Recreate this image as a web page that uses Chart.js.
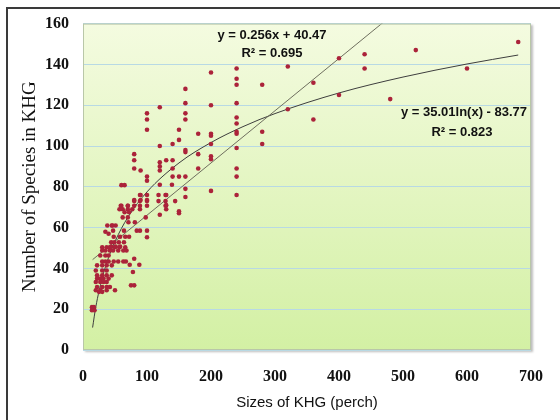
<!DOCTYPE html>
<html>
<head>
<meta charset="utf-8">
<script src="https://cdn.jsdelivr.net/npm/chart.js@4"></script>
<style>
  html, body { margin: 0; padding: 0; background: #fff; }
  #wrap { position: relative; width: 560px; height: 420px; overflow: hidden; }
  #frame { position: absolute; left: 6px; top: 7px; width: 600px; height: 500px;
           border-left: 2px solid #3a3a3a; border-top: 2px solid #3a3a3a; }
  canvas { position: absolute; left: 0; top: 0; }
</style>
</head>
<body>
<div id="wrap">
  <div id="frame"></div>
  <canvas id="myChart" width="560" height="420"></canvas>
</div>
<script>
// observed sites: size (perch) and number of species
let sizes = [
  30,37,42,50,57,66, 30,35,42,47,55,63,68, 27,35,40, 80, 30,35,40,48,55,63,67,
  73,88, 22,30,37,45, 20,30,37, 78, 22,30,37,45, 22,27,32,40, 20,27,32,37,
  75,80, 22,30,37,42, 20,27,37,50, 25,30, 14,17, 14,18,
  89,100,118,129, 80,89,100,118,129, 59,70,80,89,100,129, 57,62,70,77,89,
  65,72, 120, 98,62,70, 71,81, 46,51, 38,45, 35,40, 47,64,84,89,100,
  100,48,58,66,72, 44,49,56,64, 44,51,58,
  60,65, 120,139, 90, 80, 90,100, 60,70,
  80,80,80, 90, 100,100,100,100,100, 120,120,120,120,120,
  130,130,130,130, 140,140,140,140, 144, 150,150,150,150,150,
  160,160,160,160,160,160,160,160,160, 180,180,180,
  200,200,200,200,200,200,200,200,
  240,240,240,240,240,240,240,240,240,240,240,240,
  280,280,280, 320,320, 360,360, 400,400, 440,440, 480, 520, 600, 680
];
let species = [
  50.4,50.4,50.4,50.4,50.4,50.4, 48.8,48.8,48.8,48.8,48.8,48.8,48.8, 46.3,46.3,46.3, 44.7, 43.4,43.4,43.4,43.4,43.4,43.4,43.4,
  41.8,41.8, 41.5,41.5,41.5,41.5, 39,39,39, 38.2, 36.6,36.6,36.6,36.6, 35,35,35,35, 33.3,33.3,33.3,33.3,
  31.7,31.7, 30.9,30.9,30.9,30.9, 29.3,29.3,29.3,29.3, 28.5,28.5, 21,21, 19.5,19.5,
  76,76,76,76, 73,73,73,73,73, 70.7,70.7,70.7,70.7,70.7,70.7, 69,69,69,69,69,
  67.5,67.5, 66.3, 65,65,65, 62.6,62.6, 61,61, 61,61, 58,57, 58.5,58.5,58.5,58.5,58.5,
  55.3,55.5,55.5,55.5,55.5, 52.8,52.8,52.8,52.8, 50.7,50.7,50.7,
  80.8,80.8, 81,81, 76, 73.5, 73.5,73.5, 70.7,70.7,
  96,93,89, 88, 116,113,108,85,83, 119,100,92,90,88,
  93,76,71,69, 101,93,89,85, 73, 108,103,85,68,67,
  128,121,116,113,98,97,85,79,75, 106,96,89,
  136,120,106,105,101,95,93.5,78,
  138,133,130,121,114,111,107,106,99,89,85,76,
  130,107,101, 139,118, 131,113, 143,125, 145,138, 123, 147, 138, 151
];

// linear trend y = 0.256x + 40.47 (end points)
let linX = [15, 480];
let linY = [44.3, 163.4];

// log trend y = 35.01ln(x) - 83.77
let logX = [15, 20, 30, 40, 50, 70, 100, 150, 200, 250, 300, 400, 500, 600, 680];
let logY = [11.0, 21.1, 35.3, 45.4, 53.2, 65.0, 77.5, 91.7, 101.7, 109.5, 115.9, 126.0, 133.8, 140.2, 144.6];

let xTicks = [0, 700, 100];
let yTicks = [0, 160, 20];

function pairs(xs, ys) {
  return xs.map(function (x, i) { return { x: x, y: ys[i] }; });
}

// green plot background + frame + trend labels
let plotDeco = {
  id: 'plotDeco',
  beforeDraw: function (chart) {
    let a = chart.chartArea, ctx = chart.ctx;
    let g = ctx.createLinearGradient(0, a.top, 0, a.bottom);
    g.addColorStop(0, '#f4fbe0');
    g.addColorStop(1, '#d3f0a4');
    ctx.save();
    ctx.shadowColor = 'rgba(0,0,0,0.25)';
    ctx.shadowOffsetX = 1.5;
    ctx.shadowOffsetY = 1.5;
    ctx.shadowBlur = 2;
    ctx.fillStyle = g;
    ctx.fillRect(a.left, a.top, a.right - a.left, a.bottom - a.top);
    ctx.restore();
  },
  afterDraw: function (chart) {
    let a = chart.chartArea, ctx = chart.ctx;
    ctx.save();
    ctx.strokeStyle = '#b9c7a8';
    ctx.lineWidth = 1;
    ctx.strokeRect(a.left + 0.5, a.top + 0.5, a.right - a.left - 1, a.bottom - a.top - 1);
    ctx.fillStyle = '#111';
    ctx.font = 'bold 13px "Liberation Sans", Arial, sans-serif';
    ctx.textAlign = 'center';
    ctx.textBaseline = 'middle';
    ctx.fillText('y = 0.256x + 40.47', 272, 35);
    ctx.fillText('R² = 0.695', 272, 53);
    ctx.fillText('y = 35.01ln(x) - 83.77', 464, 112);
    ctx.fillText('R² = 0.823', 462, 132);
    ctx.restore();
  }
};

let myChart = new Chart(document.getElementById('myChart').getContext('2d'), {
  type: 'scatter',
  data: {
    datasets: [
      {
        label: 'sites',
        data: pairs(sizes, species),
        pointRadius: 2.3,
        pointBackgroundColor: '#ab233a',
        pointBorderWidth: 0,
        order: 1
      },
      {
        label: 'linear',
        data: pairs(linX, linY),
        showLine: true,
        pointRadius: 0,
        borderColor: '#6e6e5e',
        borderWidth: 1,
        order: 2
      },
      {
        label: 'log',
        data: pairs(logX, logY),
        showLine: true,
        pointRadius: 0,
        borderColor: '#3e3e3e',
        borderWidth: 1,
        cubicInterpolationMode: 'monotone',
        order: 3
      }
    ]
  },
  options: {
    responsive: false,
    animation: false,
    layout: { padding: { left: 0, right: 15, top: 22, bottom: 0 } },
    plugins: { legend: { display: false }, tooltip: { enabled: false } },
    scales: {
      x: {
        type: 'linear',
        min: xTicks[0], max: xTicks[1],
        afterFit: function (s) { s.height = 70; },
        ticks: {
          stepSize: xTicks[2],
          padding: 17,
          color: '#111',
          font: { family: '"Liberation Serif", "Times New Roman", serif', size: 16, weight: 'bold' }
        },
        grid: { display: false, drawTicks: false },
        border: { display: false },
        title: {
          display: true,
          text: 'Sizes of KHG (perch)',
          color: '#111',
          padding: { top: 0, bottom: 8 },
          font: { family: '"Liberation Sans", Arial, sans-serif', size: 15 }
        }
      },
      y: {
        min: yTicks[0], max: yTicks[1],
        afterFit: function (s) { s.width = 83; },
        ticks: {
          stepSize: yTicks[2],
          padding: 14,
          color: '#111',
          font: { family: '"Liberation Serif", "Times New Roman", serif', size: 16, weight: 'bold' }
        },
        grid: { color: '#b8d9e4', lineWidth: 1, drawTicks: false },
        border: { display: false },
        title: {
          display: true,
          text: 'Number of Species in KHG',
          color: '#111',
          padding: { top: 19, bottom: 0 },
          font: { family: '"Liberation Serif", "Times New Roman", serif', size: 19 }
        }
      }
    }
  },
  plugins: [plotDeco]
});
</script>
</body>
</html>
